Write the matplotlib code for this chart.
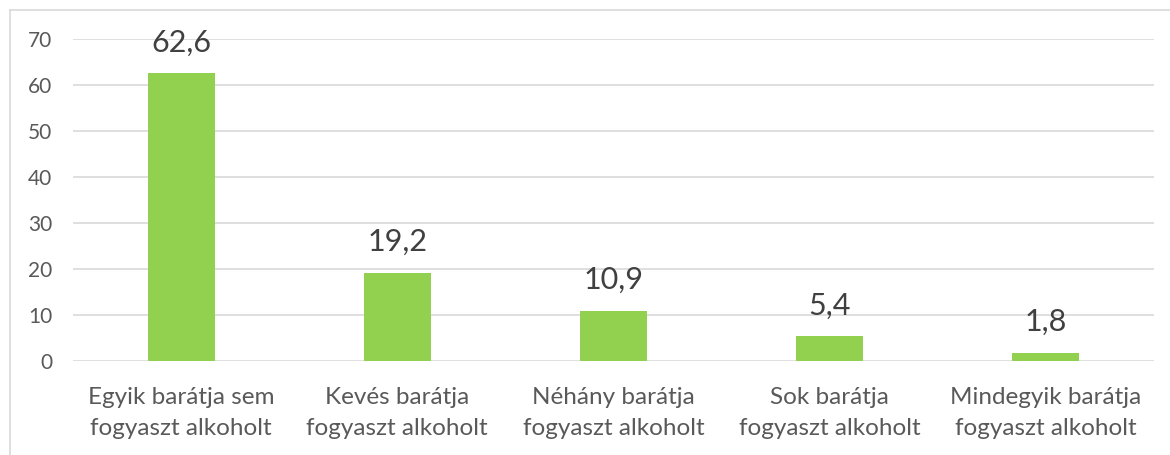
import matplotlib.pyplot as plt
from matplotlib.lines import Line2D

categories = ["Egyik barátja sem\nfogyaszt alkoholt",
              "Kevés barátja\nfogyaszt alkoholt",
              "Néhány barátja\nfogyaszt alkoholt",
              "Sok barátja\nfogyaszt alkoholt",
              "Mindegyik barátja\nfogyaszt alkoholt"]
values = [62.6, 19.2, 10.9, 5.4, 1.8]
yticks = [0, 10, 20, 30, 40, 50, 60, 70]

plt.rcParams['font.family'] = ['Lato', 'DejaVu Sans']

fig = plt.figure(figsize=(11.7, 4.55), dpi=100)
ax = fig.add_axes([73 / 1170, 1 - 361 / 455, 1081 / 1170, 322 / 455])

x = range(len(values))
bars = ax.bar(x, values, width=0.31, color='#92D050', zorder=3)

for b, v in zip(bars, values):
    ax.annotate(f"{v:.1f}".replace('.', ','),
                (b.get_x() + b.get_width() / 2, v),
                xytext=(0, 12), textcoords='offset points',
                ha='center', va='bottom', fontsize=22, color='#404040')

ax.set_xlim(-0.5, len(values) - 0.5)
ax.set_ylim(0, 70)
ax.set_yticks(yticks)
ax.set_xticks(list(x))
ax.set_xticklabels(categories, fontsize=17.5, color='#595959', linespacing=1.55)
ax.tick_params(axis='y', labelsize=15, labelcolor='#595959', length=0, pad=15)
ax.tick_params(axis='x', length=0, pad=19)
ax.grid(axis='y', color='#d9d9d9', linewidth=1.2, zorder=0)
for s in ax.spines.values():
    s.set_visible(False)

# chart border (left and top edges visible)
fig.add_artist(Line2D([9.5 / 1170, 9.5 / 1170], [0, 1 - 9.5 / 455],
                      transform=fig.transFigure, color='#d9d9d9', lw=1.2))
fig.add_artist(Line2D([9.5 / 1170, 1], [1 - 9.5 / 455, 1 - 9.5 / 455],
                      transform=fig.transFigure, color='#d9d9d9', lw=1.2))

fig.savefig('out.png', dpi=100)
